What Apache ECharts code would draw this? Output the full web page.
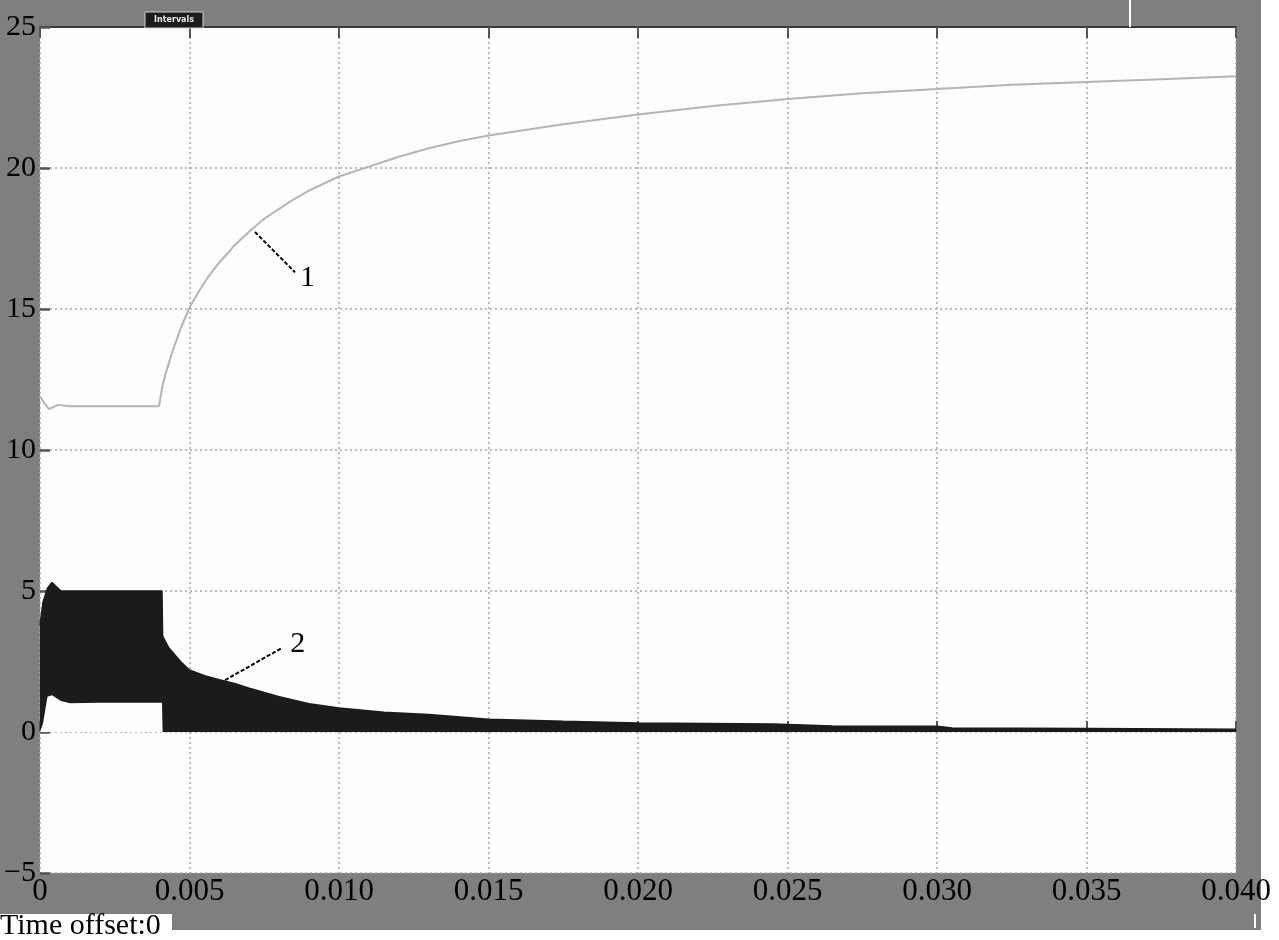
<!DOCTYPE html>
<html>
<head>
<meta charset="utf-8">
<script src="https://cdn.jsdelivr.net/npm/echarts@6/dist/echarts.min.js"></script>
<style>
html,body{margin:0;padding:0;background:#fff;}
#c{width:1279px;height:940px;}
</style>
</head>
<body>
<div id="c"></div>
<script>
// ---- data ----
const xTicks = [0, 0.005, 0.010, 0.015, 0.020, 0.025, 0.030, 0.035, 0.040];
const yTicks = [-5, 0, 5, 10, 15, 20, 25];

// curve 1 (light gray)
const t1 = [0, 0.00012, 0.0003, 0.0006, 0.001, 0.002, 0.003, 0.00398, 0.0041, 0.0042, 0.0044, 0.0047, 0.005, 0.0053, 0.0056, 0.006, 0.0065, 0.007, 0.0075, 0.008, 0.0085, 0.009, 0.0095, 0.010, 0.011, 0.012, 0.013, 0.014, 0.015, 0.0175, 0.020, 0.0225, 0.025, 0.0275, 0.030, 0.0325, 0.035, 0.0375, 0.040];
const v1 = [11.9, 11.7, 11.45, 11.6, 11.55, 11.55, 11.55, 11.55, 12.3, 12.7, 13.4, 14.3, 15.05, 15.6, 16.1, 16.65, 17.25, 17.75, 18.2, 18.55, 18.9, 19.2, 19.45, 19.7, 20.05, 20.4, 20.7, 20.95, 21.15, 21.55, 21.9, 22.2, 22.45, 22.65, 22.8, 22.95, 23.05, 23.15, 23.25];

// curve 2 (dense black oscillation) : envelopes
const t2 = [0, 0.0001, 0.00025, 0.0004, 0.0007, 0.001, 0.002, 0.003, 0.00408, 0.0041, 0.0043, 0.0047, 0.005, 0.0055, 0.006, 0.0065, 0.007, 0.008, 0.009, 0.010, 0.0115, 0.013, 0.015, 0.0175, 0.020, 0.0245, 0.0265, 0.030, 0.0305, 0.035, 0.040];
const upper2 = [3.8, 4.6, 5.1, 5.3, 5.0, 5.0, 5.0, 5.0, 5.0, 3.4, 3.0, 2.5, 2.2, 2.0, 1.85, 1.72, 1.55, 1.25, 1.0, 0.85, 0.7, 0.62, 0.45, 0.38, 0.32, 0.28, 0.21, 0.2, 0.14, 0.12, 0.1];
const lower2 = [0, 0.3, 1.25, 1.3, 1.1, 1.02, 1.04, 1.04, 1.04, 0, 0, 0, 0, 0, 0, 0, 0, 0, 0, 0, 0, 0, 0, 0, 0, 0, 0, 0, 0, 0, 0];

// annotation leader lines [x, y]
const ann1 = [[0.00719, 17.73], [0.00853, 16.3]];
const ann1Label = [0.00895, 16.1];
const ann2 = [[0.00619, 1.84], [0.00809, 2.98]];
const ann2Label = [0.00862, 3.1];

const FONT = 'Liberation Serif';

const s1 = t1.map((t, i) => [t, v1[i]]);
const sUp = t2.map((t, i) => [t, upper2[i]]);
const sLow = t2.map((t, i) => [t, lower2[i]]);

const chart = echarts.init(document.getElementById('c'), null, {renderer: 'canvas'});
const fmtX = v => (v === 0 ? '0' : v.toFixed(3));
const fmtY = v => String(v).replace('-', '\u2212');

chart.setOption({
  animation: false,
  backgroundColor: '#7f7f7f',
  graphic: [
    {type: 'rect', z: -100, shape: {x: 1261, y: 0, width: 18, height: 940}, style: {fill: '#ffffff'}},
    {type: 'rect', z: -100, shape: {x: 0, y: 930, width: 1279, height: 10}, style: {fill: '#ffffff'}},
    {type: 'rect', z: -100, shape: {x: 0, y: 914, width: 172, height: 26}, style: {fill: '#ffffff'}},
    {type: 'rect', z: -100, shape: {x: 1254, y: 914, width: 2, height: 14}, style: {fill: '#ffffff'}},
    {type: 'rect', z: 10, shape: {x: 1129, y: 0, width: 2, height: 27}, style: {fill: '#ffffff'}},
    {type: 'rect', z: 10, shape: {x: 145, y: 12, width: 58, height: 16}, style: {fill: '#1c1c1c', stroke: '#d0d0d0', lineWidth: 1}},
    {type: 'text', z: 11, x: 174, y: 20, style: {text: 'Intervals', fill: '#e8e8e8', font: 'bold 8px "DejaVu Sans"', textAlign: 'center', textVerticalAlign: 'middle'}},
    {type: 'text', z: 11, x: 0, y: 926, style: {text: 'Time offset:0', fill: '#000', font: '30px "' + FONT + '"', textAlign: 'left', textVerticalAlign: 'middle'}}
  ],
  grid: {left: 40, top: 27, width: 1196, height: 846, show: true, backgroundColor: '#fdfdfd', borderWidth: 0},
  xAxis: [{
    type: 'value', min: 0, max: 0.04, interval: 0.005, position: 'bottom',
    axisLine: {show: false},
    axisTick: {show: true, inside: true, length: 11, lineStyle: {color: '#555', width: 2}},
    splitLine: {show: true, lineStyle: {color: '#a8a8a8', width: 1.5, type: [2, 3]}},
    axisLabel: {formatter: fmtX, color: '#000', fontFamily: FONT, fontSize: 31, margin: 3}
  }, {
    type: 'value', min: 0, max: 0.04, interval: 0.005, position: 'top',
    axisLine: {show: true, lineStyle: {color: '#3a3a3a', width: 2}},
    axisTick: {show: true, inside: true, length: 11, lineStyle: {color: '#555', width: 2}},
    splitLine: {show: false},
    axisLabel: {show: false}
  }],
  yAxis: {
    type: 'value', min: -5, max: 25, interval: 5,
    axisLine: {show: false},
    axisTick: {show: true, inside: true, length: 10, lineStyle: {color: '#555', width: 2.5}},
    splitLine: {show: true, lineStyle: {color: '#a8a8a8', width: 1.5, type: [2, 3]}},
    axisLabel: {formatter: fmtY, color: '#000', fontFamily: FONT, fontSize: 30, margin: 4}
  },
  series: [
    {
      type: 'line', name: 'upper', data: sUp, symbol: 'none', z: 3,
      lineStyle: {color: '#1b1b1b', width: 1.5}, areaStyle: {color: '#1b1b1b', opacity: 1, origin: 0},
      markLine: {
        silent: true, symbol: 'none', label: {show: false},
        lineStyle: {color: '#000', width: 2, type: [4, 2]},
        data: [[{coord: ann2[0]}, {coord: ann2[1]}]]
      },
      markPoint: {
        symbol: 'circle', symbolSize: 1, itemStyle: {color: 'rgba(0,0,0,0)'},
        label: {show: true, position: 'inside', color: '#000', fontFamily: FONT, fontSize: 30, formatter: '2'},
        data: [{coord: ann2Label}]
      }
    },
    {
      type: 'line', name: 'lower', data: sLow, symbol: 'none', z: 4, silent: true,
      lineStyle: {color: '#fdfdfd', width: 0}, areaStyle: {color: '#fdfdfd', opacity: 1, origin: 0}
    },
    {
      type: 'line', name: 'curve1', data: s1, symbol: 'none', z: 5,
      lineStyle: {color: '#b5b5b5', width: 2},
      markLine: {
        silent: true, symbol: 'none', label: {show: false},
        lineStyle: {color: '#000', width: 2, type: [4, 2]},
        data: [[{coord: ann1[0]}, {coord: ann1[1]}]]
      },
      markPoint: {
        symbol: 'circle', symbolSize: 1, itemStyle: {color: 'rgba(0,0,0,0)'},
        label: {show: true, position: 'inside', color: '#000', fontFamily: FONT, fontSize: 30, formatter: '1'},
        data: [{coord: ann1Label}]
      }
    }
  ]
});
</script>
</body>
</html>
